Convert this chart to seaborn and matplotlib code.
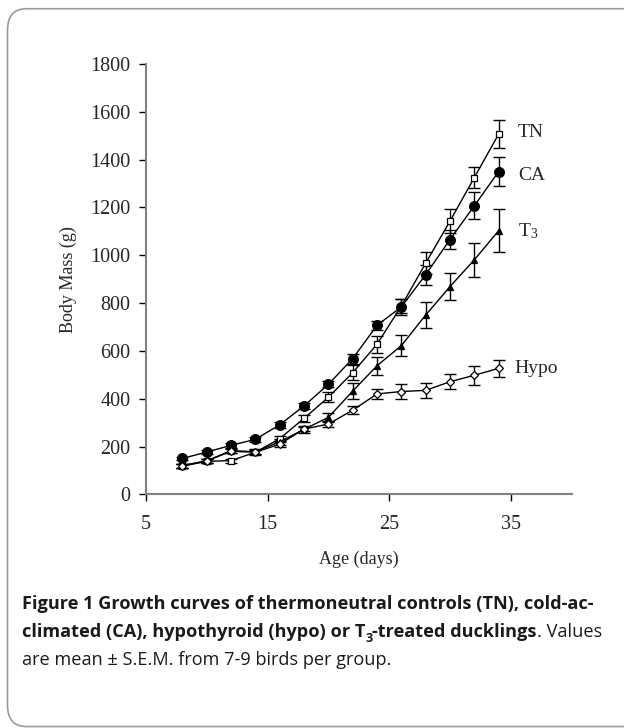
# Growth curves of ducklings: body mass vs age for four treatment groups

import seaborn as sns
import matplotlib.pyplot as plt
import pandas as pd
from matplotlib.patches import FancyBboxPatch

days = [8, 10, 12, 14, 16, 18, 20, 22, 24, 26, 28, 30, 32, 34]
tn = [118, 138, 141, 176, 233, 318, 406, 509, 628, 788, 967, 1143, 1325, 1507]
tn_sem = [8, 8, 8, 10, 12, 15, 20, 30, 35, 30, 45, 50, 45, 60]
ca = [150, 177, 205, 230, 291, 370, 460, 568, 707, 784, 919, 1066, 1207, 1350]
ca_sem = [8, 8, 10, 10, 12, 12, 12, 21, 19, 35, 42, 40, 57, 60]
t3 = [120, 140, 183, 178, 220, 272, 322, 432, 538, 622, 750, 869, 981, 1103]
t3_sem = [8, 8, 10, 10, 12, 15, 20, 35, 37, 43, 56, 57, 72, 90]
hypo = [120, 140, 180, 176, 210, 273, 294, 352, 420, 430, 435, 471, 498, 527]
hypo_sem = [8, 8, 8, 8, 10, 10, 12, 17, 20, 31, 31, 31, 40, 37]

sns.set_theme(style="white")
plt.rcParams["font.family"] = ["Liberation Serif", "DejaVu Serif"]
plt.rcParams["mathtext.fontset"] = "custom"
plt.rcParams["mathtext.rm"] = "Liberation Serif"
plt.rcParams["mathtext.it"] = "Liberation Serif"

fig = plt.figure(figsize=(6.24, 7.28), dpi=100)
ax = fig.add_axes([0.234, 0.321, 0.682, 0.591])

# rounded frame, running off the right and bottom edges
frame = FancyBboxPatch((0.012, 0.002), 1.2, 0.986, transform=fig.transFigure,
                       boxstyle="round,pad=0,rounding_size=0.03",
                       fill=False, edgecolor="#9a9a9a", linewidth=1.2, clip_on=False)
fig.patches.append(frame)

groups = [
    ("TN", tn, tn_sem, "s", "white", 4.5),
    ("CA", ca, ca_sem, "o", "black", 7),
    ("T3", t3, t3_sem, "^", "black", 5),
    ("Hypo", hypo, hypo_sem, "D", "white", 4),
]
for name, vals, sem, mk, fc, ms in groups:
    df = pd.DataFrame({"day": days, "mass": vals})
    ax.errorbar(days, vals, yerr=sem, fmt="none", ecolor="black",
                elinewidth=1, capsize=4, capthick=1, zorder=2)
    sns.lineplot(data=df, x="day", y="mass", ax=ax, color="black", linewidth=1,
                 marker=mk, markersize=ms, markerfacecolor=fc,
                 markeredgecolor="black", markeredgewidth=0.9, zorder=3)

ax.text(35.6, 1515, "TN", fontsize=14, va="center")
ax.text(35.6, 1335, "CA", fontsize=14, va="center")
ax.text(35.6, 1100, r"T$_3$", fontsize=14, va="center")
ax.text(35.3, 527, "Hypo", fontsize=14, va="center")

ax.set_xlim(5, 40)
ax.set_ylim(0, 1800)
ax.set_xticks([5, 15, 25, 35])
ax.set_yticks(range(0, 1801, 200))
ax.set_xlabel("Age (days)", fontsize=13, labelpad=12)
ax.set_ylabel("Body Mass (g)", fontsize=13, labelpad=10)
for s in ["top", "right"]:
    ax.spines[s].set_visible(False)
for s in ["left", "bottom"]:
    ax.spines[s].set_color("#808080")
    ax.spines[s].set_linewidth(1.5)
ax.tick_params(axis="both", direction="out", length=5, width=1, color="black",
               labelsize=14.5, bottom=True, left=True)
ax.tick_params(axis="x", pad=10)
ax.tick_params(axis="y", pad=6)

# caption with mixed bold / regular pieces
fig.canvas.draw()
renderer = fig.canvas.get_renderer()
cap_font = ["Open Sans", "DejaVu Sans"]
size = 13.1


def chain(pieces, x0, y0):
    x = x0
    for txt, weight, sub in pieces:
        t = fig.text(x, y0 - (0.007 if sub else 0), txt, fontsize=size * (0.7 if sub else 1),
                     family=cap_font, weight=weight, color="#1a1a1a", va="baseline")
        bb = t.get_window_extent(renderer)
        x += bb.width / fig.bbox.width


chain([("Figure 1 Growth curves of thermoneutral controls (TN), cold-ac-", "bold", False)],
      0.035, 0.163)
chain([("climated (CA), hypothyroid (hypo) or T", "bold", False), ("3", "bold", True),
       ("-treated ducklings", "bold", False), (". Values", "normal", False)],
      0.035, 0.125)
chain([("are mean \u00b1 S.E.M. from 7-9 birds per group.", "normal", False)], 0.035, 0.087)

fig.savefig("out.png", dpi=100)
